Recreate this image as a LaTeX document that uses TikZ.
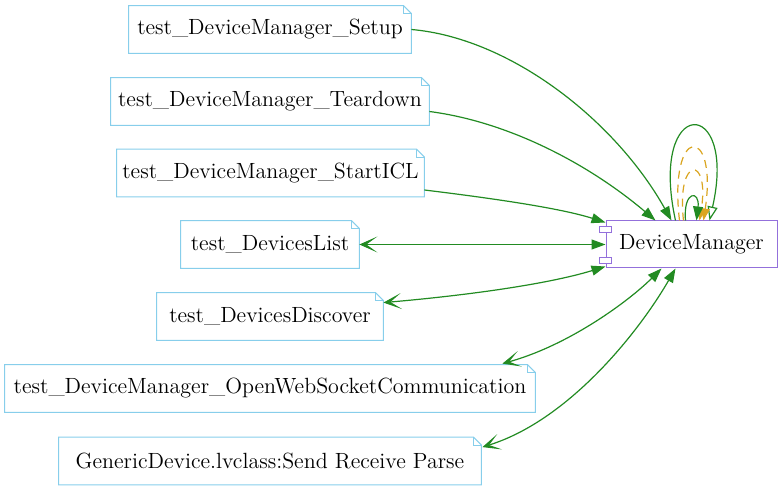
\documentclass[tikz,border=0pt]{standalone}
\usetikzlibrary{calc,arrows.meta}
\definecolor{linkgreen}{HTML}{228B22}
\definecolor{loopgold}{HTML}{DAA520}
\definecolor{noteblue}{HTML}{87CEEB}
\definecolor{comppurple}{HTML}{9370DB}
\tikzset{
	testnote/.style={inner xsep=2pt, minimum height=23.5pt, font=\fontsize{11}{13}\selectfont},
	notelines/.style={draw=noteblue, line width=0.5pt},
	compbox/.style={draw=comppurple, line width=0.5pt, minimum width=85.5pt, minimum height=23.5pt, font=\fontsize{11}{13}\selectfont},
	link/.style={draw=linkgreen, line width=0.6pt, -{Triangle[length=7pt,width=5pt]}},
	bothlink/.style={link, {Stealth[length=9pt,width=8pt,inset=5.5pt]}-{Triangle[length=7pt,width=5pt]}},
	dashlink/.style={draw=loopgold, line width=0.6pt, dash pattern=on 4pt off 3pt, -{Triangle[length=6pt,width=4.5pt]}}
}
\begin{document}
\begin{tikzpicture}[x=0.5pt, y=-0.5pt]
			%%%%% START %%%%%
			\useasboundingbox (0, 0) rectangle (782, 491);
			
			\node[testnote, minimum width=141pt] (setup) at (270, 29.5) {test\_DeviceManager\_Setup};
			\node[testnote, minimum width=159pt] (teardown) at (270, 101.5) {test\_DeviceManager\_Teardown};
			\node[testnote, minimum width=153.5pt] (starticl) at (270.5, 173) {test\_DeviceManager\_StartICL};
			\node[testnote, minimum width=89pt] (devlist) at (270, 244.5) {test\_DevicesList};
			\node[testnote, minimum width=113pt] (discover) at (270, 316.5) {test\_DevicesDiscover};
			\node[testnote, minimum width=265pt] (socket) at (270, 388.5) {test\_DeviceManager\_OpenWebSocketCommunication};
			\node[testnote, minimum width=211pt] (generic) at (270, 461) {GenericDevice.lvclass:Send Receive Parse};
			
			\foreach \n in {setup, teardown, starticl, devlist, discover, socket, generic} {
				\draw[notelines] (\n.north west) -- ($(\n.north east)+(-8, 0)$) -- ($(\n.north east)+(0, 8)$) -- (\n.south east) -- (\n.south west) -- cycle;
				\draw[notelines] ($(\n.north east)+(-8, 0)$) -- ($(\n.north east)+(-8, 8)$) -- ($(\n.north east)+(0, 8)$);
			}
			
			\node[compbox] (dm) at (691.5, 244.5) {DeviceManager};
			\draw[comppurple, line width=0.5pt, fill=white] ($(dm.west)+(-6, -18)$) rectangle ($(dm.west)+(6, -12)$);
			\draw[comppurple, line width=0.5pt, fill=white] ($(dm.west)+(-6, 13)$) rectangle ($(dm.west)+(6, 19)$);
			
			% calls into DeviceManager
			\draw[link] (setup.east) .. controls (510, 38) and (615, 120) .. ($(dm.north west)+(66, 0)$);
			\draw[link] ($(teardown.east)+(0, 10)$) .. controls (510, 122) and (590, 165) .. ($(dm.north west)+(50, 0)$);
			\draw[link] ($(starticl.east)+(0, 17)$) .. controls (490, 198) and (560, 208) .. ($(dm.north west)+(0, 2)$);
			
			\draw[bothlink] (devlist.east) -- (dm.west);
			\draw[bothlink] ($(discover.north east)+(0, 10)$) .. controls (460, 296) and (545, 285) .. ($(dm.south west)+(0, -2)$);
			\draw[bothlink] ($(socket.north east)+(-33, -1)$) .. controls (570, 345) and (630, 300) .. ($(dm.south west)+(56, 0)$);
			\draw[bothlink] ($(generic.north east)+(1, 10)$) .. controls (570, 420) and (640, 330) .. ($(dm.south west)+(70, 0)$);
			
			% self calls
			\draw[link, -{Triangle[open, length=7pt, width=5pt]}] ($(dm.north west)+(70, 0)$) .. controls (648, 95) and (738, 95) .. ($(dm.north west)+(104, 0)$);
			\draw[dashlink] ($(dm.north west)+(74, 0)$) .. controls (668, 124) and (718, 124) .. ($(dm.north west)+(98, 0)$);
			\draw[dashlink] ($(dm.north west)+(78, 0)$) .. controls (676, 155) and (710, 155) .. ($(dm.north west)+(94, 0)$);
			\draw[link] ($(dm.north west)+(80, 0)$) .. controls (683, 190) and (700, 190) .. ($(dm.north west)+(91, 0)$);
			
			%%%%% END %%%%%
		\end{tikzpicture}
\end{document}
